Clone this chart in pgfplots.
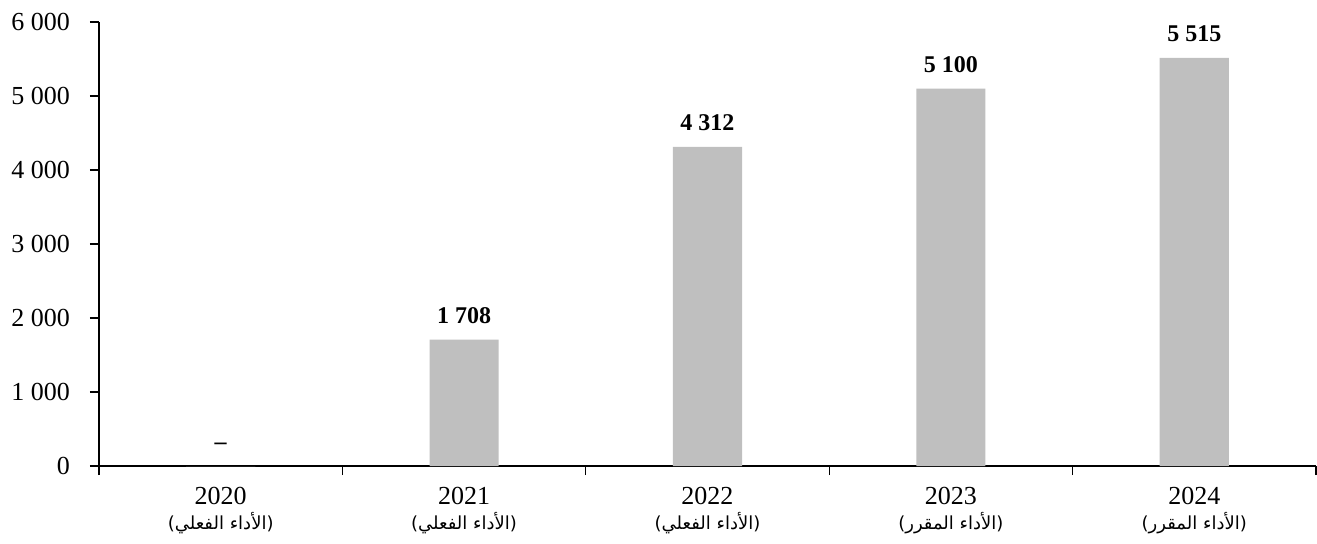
\documentclass[border=0pt]{standalone}
\usepackage{fontspec}
\setmainfont{Liberation Serif}
\newfontfamily\arabicfont[Script=Arabic]{DejaVu Sans}
\TeXXeTstate=1
\usepackage{pgfplots}
\pgfplotsset{compat=1.18}
\definecolor{barg}{HTML}{BFBFBF}
\newcommand{\lbl}[2]{#1\\{\arabicfont\fontsize{18bp}{25bp}\selectfont\beginR(الأداء #2)\endR}}
\begin{document}
\begin{tikzpicture}
\useasboundingbox (-99bp,-78bp) rectangle (1218bp,466bp);
\begin{axis}[
  at={(0,0)}, anchor=south west, scale only axis,
  width=1217bp, height=444bp,
  xmin=-0.5, xmax=4.5, ymin=0, ymax=6000,
  axis x line=bottom, axis y line=left,
  axis line style={-, line width=1.3bp},
  tick align=outside, major tick length=9bp,
  every tick/.style={draw=black, line width=1.3bp},
  ytick={0,1000,...,6000},
  xtick={-0.5,0.5,1.5,2.5,3.5,4.5},
  xticklabels={},
  extra x ticks={0,1,2,3,4},
  extra x tick labels={\lbl{2020}{الفعلي},\lbl{2021}{الفعلي},\lbl{2022}{الفعلي},\lbl{2023}{المقرر},\lbl{2024}{المقرر}},
  extra x tick style={major tick length=0pt, xticklabel style={align=center, font=\fontsize{26bp}{25bp}\selectfont, inner sep=0pt, yshift=-21bp}},
  /pgf/number format/.cd, assume math mode=true, 1000 sep={\ },
  /pgfplots/.cd,
  yticklabel style={font=\fontsize{26bp}{28bp}\selectfont, inner sep=0pt, xshift=-20bp},
  clip=false,
]
\addplot[ybar, bar width=0.284, fill=barg, draw=none,
  nodes near coords, point meta=explicit symbolic,
  every node near coord/.append style={font=\bfseries\fontsize{24bp}{28bp}\selectfont, text=black, inner sep=0pt, yshift=16bp}]
  coordinates {(0,0) [–] (1,1708) [1 708] (2,4312) [4 312] (3,5100) [5 100] (4,5515) [5 515]};
\end{axis}
\end{tikzpicture}
\end{document}
